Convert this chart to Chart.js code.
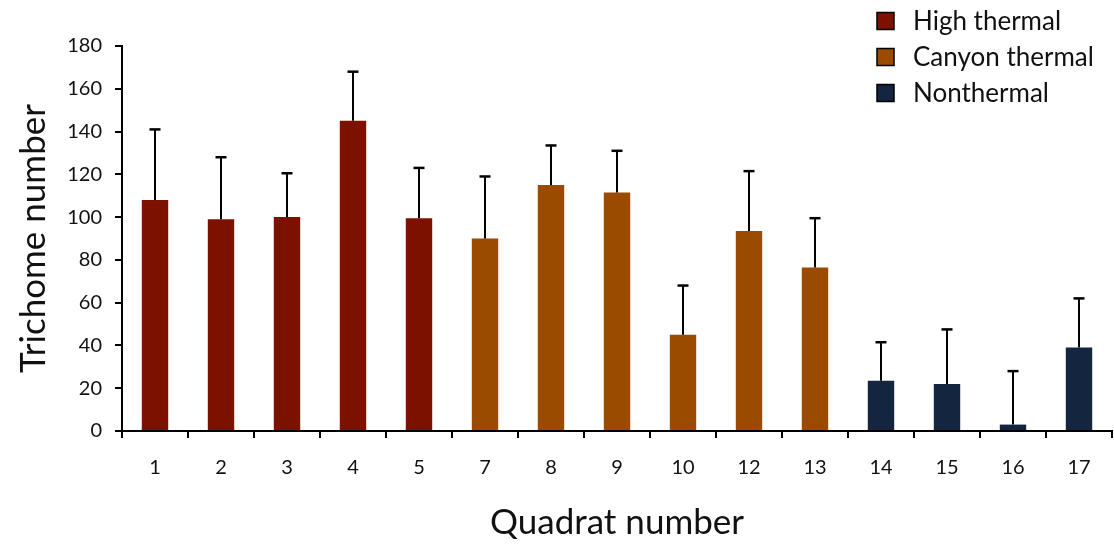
<!DOCTYPE html>
<html>
<head>
<meta charset="utf-8">
<script src="https://cdn.jsdelivr.net/npm/chart.js@4.4.1/dist/chart.umd.min.js"></script>
<style>
  html, body { margin: 0; padding: 0; background: #ffffff; }
  #wrap { width: 1114px; height: 548px; position: relative; }
</style>
</head>
<body>
<div id="wrap"><canvas id="c" width="1114" height="548"></canvas></div>
<script>
// ---- Data ----
const categories = ['1','2','3','4','5','7','8','9','10','12','13','14','15','16','17'];
const groupNames = ['High thermal', 'Canyon thermal', 'Nonthermal'];
const groupOfBar = [0,0,0,0,0,1,1,1,1,1,1,2,2,2,2];
const means      = [108, 99, 100, 145, 99.5, 90, 115, 111.5, 45, 93.5, 76.5, 23.5, 22, 3, 39];
const errUpper   = [33, 29, 20.5, 23, 23.5, 29, 18.5, 19.5, 23, 28, 23, 18, 25.5, 25, 23];
const yTicks     = [0, 20, 40, 60, 80, 100, 120, 140, 160, 180];
const groupColors = ['#7d1100', '#9a4b00', '#13253f'];

const FONT = 'Lato, "Open Sans", sans-serif';

const errorBarPlugin = {
  id: 'errorBars',
  afterDatasetsDraw(chart) {
    const ctx = chart.ctx;
    const meta = chart.getDatasetMeta(0);
    const y = chart.scales.y;
    ctx.save();
    ctx.strokeStyle = '#000';
    meta.data.forEach((bar, i) => {
      const x = bar.x;
      const yTop = y.getPixelForValue(means[i] + errUpper[i]);
      const yBar = y.getPixelForValue(means[i]);
      ctx.lineWidth = 2;
      ctx.beginPath();
      ctx.moveTo(x, yBar);
      ctx.lineTo(x, yTop);
      ctx.stroke();
      ctx.lineWidth = 2.5;
      ctx.beginPath();
      ctx.moveTo(x - 5.5, yTop);
      ctx.lineTo(x + 5.5, yTop);
      ctx.stroke();
    });
    ctx.restore();
  }
};

const legendPlugin = {
  id: 'boxLegend',
  afterDraw(chart) {
    const ctx = chart.ctx;
    ctx.save();
    const x0 = 877, size = 17;
    const rows = [21, 57, 93];
    ctx.font = '26px ' + FONT;
    ctx.textBaseline = 'middle';
    ctx.textAlign = 'left';
    groupNames.forEach((name, i) => {
      const cy = rows[i];
      ctx.fillStyle = groupColors[i];
      ctx.fillRect(x0, cy - size / 2, size, size);
      ctx.strokeStyle = '#000';
      ctx.lineWidth = 1.5;
      ctx.strokeRect(x0, cy - size / 2, size, size);
      ctx.fillStyle = '#111';
      ctx.fillText(name, 913, cy + 1);
    });
    ctx.restore();
  }
};

new Chart(document.getElementById('c'), {
  type: 'bar',
  data: {
    labels: categories,
    datasets: [{
      data: means,
      backgroundColor: groupOfBar.map(g => groupColors[g]),
      borderWidth: 0,
      categoryPercentage: 1.0,
      barPercentage: 0.4
    }]
  },
  options: {
    responsive: false,
    animation: false,
    devicePixelRatio: 1,
    layout: { padding: { left: 0, top: 46, right: 2, bottom: 0 } },
    plugins: { legend: { display: false }, tooltip: { enabled: false } },
    scales: {
      x: {
        offset: true,
        grid: { display: true, drawOnChartArea: false, offset: true, color: '#000', lineWidth: 2, tickLength: 7, drawTicks: true },
        border: { display: true, color: '#000', width: 2 },
        ticks: { color: '#111', font: { family: FONT, size: 20 }, padding: 18, maxRotation: 0, autoSkip: false },
        title: { display: true, text: 'Quadrat number', color: '#111', font: { family: FONT, size: 35 }, padding: { top: 0, bottom: 4 } },
        afterFit(scale) { scale.height = 117; }
      },
      y: {
        min: 0, max: 180,
        afterBuildTicks(scale) { scale.ticks = yTicks.map(v => ({ value: v })); },
        grid: { display: true, drawOnChartArea: false, color: '#000', lineWidth: 2, tickLength: 7, drawTicks: true },
        border: { display: true, color: '#000', width: 2 },
        ticks: { color: '#111', font: { family: FONT, size: 20 }, padding: 13 },
        title: { display: true, text: 'Trichome number', color: '#111', font: { family: FONT, size: 35 }, padding: { top: 13, bottom: 0 } },
        afterFit(scale) { scale.width = 122; }
      }
    }
  },
  plugins: [errorBarPlugin, legendPlugin]
});
</script>
</body>
</html>
